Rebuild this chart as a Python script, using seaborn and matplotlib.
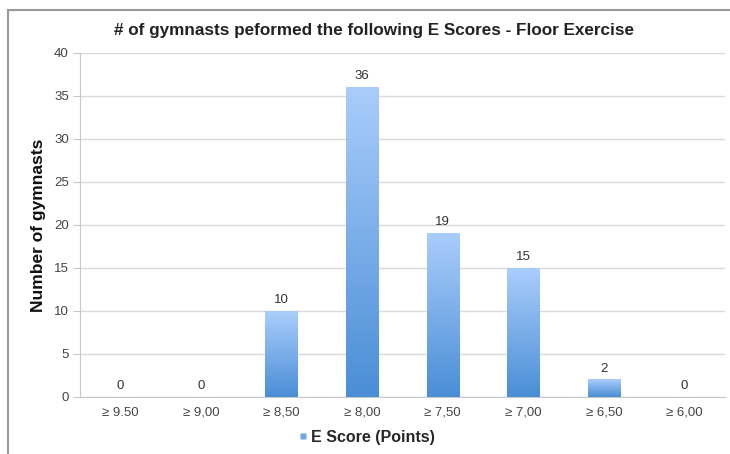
import numpy as np
import pandas as pd
import matplotlib
matplotlib.use('Agg')
import matplotlib.pyplot as plt
import seaborn as sns
from matplotlib.colors import LinearSegmentedColormap
from matplotlib.patches import Rectangle
from matplotlib.lines import Line2D

# datos
categorias = ['≥ 9.50', '≥ 9,00', '≥ 8,50', '≥ 8,00', '≥ 7,50', '≥ 7,00', '≥ 6,50', '≥ 6,00']
gimnastas = [0, 0, 10, 36, 19, 15, 2, 0]

df = pd.DataFrame({'cat': categorias, 'n': gimnastas})

sns.set_style('white')
plt.rcParams['font.family'] = ['Liberation Sans', 'DejaVu Sans']

fig = plt.figure(figsize=(7.3, 4.54), dpi=100)
ax = fig.add_axes([0.1096, 0.1256, 0.8834, 0.7577])

sns.barplot(data=df, x='cat', y='n', ax=ax, width=0.4, color='#6fa6e6')

# degradado en cada barra
cmap = LinearSegmentedColormap.from_list('azul', ['#4a8ed6', '#aacdfb'])
grad = np.linspace(0, 1, 256).reshape(-1, 1)
for p in ax.patches:
    h = p.get_height()
    if h <= 0:
        continue
    x0 = p.get_x()
    w = p.get_width()
    ax.imshow(grad, extent=[x0, x0 + w, 0, h], origin='lower', cmap=cmap,
              aspect='auto', zorder=3)
    p.set_facecolor('none')
    p.set_edgecolor('none')

# etiquetas de valores
for i, v in enumerate(gimnastas):
    ax.text(i, v + 0.6, str(v), ha='center', va='bottom', fontsize=9.5, color='#333333')

ax.set_xlim(-0.5, len(categorias) - 0.5)
ax.set_ylim(0, 40)
ax.set_yticks(range(0, 41, 5))
ax.yaxis.grid(True, color='#d9d9d9', linewidth=1)
ax.set_axisbelow(True)

for s in ['top', 'right']:
    ax.spines[s].set_visible(False)
ax.spines['left'].set_color('#c8c8c8')
ax.spines['bottom'].set_color('#c8c8c8')

ax.set_xticks(np.arange(len(categorias)))
ax.set_xticklabels(categorias)
ax.tick_params(axis='x', length=0, labelsize=9.5, labelcolor='#444444', pad=7)
ax.set_xticks(np.arange(-0.5, len(categorias) + 0.5, 1), minor=True)
ax.tick_params(axis='x', which='minor', length=4, color='#c8c8c8', direction='out')
ax.tick_params(axis='y', length=5, color='#c8c8c8', labelsize=9.5, labelcolor='#444444',
               direction='out', pad=3, left=True)

ax.set_xlabel('')
ax.set_ylabel('Number of gymnasts', fontsize=12.5, fontweight='bold', color='#111111', labelpad=6)

fig.text(0.512, 0.933, '# of gymnasts peformed the following E Scores - Floor Exercise',
         ha='center', va='center', fontsize=12.3, fontweight='bold', color='#222222')

# leyenda
handle = Line2D([], [], marker='s', linestyle='none', markersize=5,
                markerfacecolor='#6fa6e6', markeredgecolor='none')
fig.legend([handle], ['E Score (Points)'], loc='center', bbox_to_anchor=(0.5, 0.037),
           frameon=False, handletextpad=0.0, handlelength=1.0,
           prop={'weight': 'bold', 'size': 11.5})

# marco del gráfico
fig.patches.append(Rectangle((8 / 730, -0.5), 1.5, 1.5 - 10 / 454,
                             transform=fig.transFigure, fill=False,
                             edgecolor='#999999', linewidth=1.5))

fig.savefig('out.png', dpi=100)
